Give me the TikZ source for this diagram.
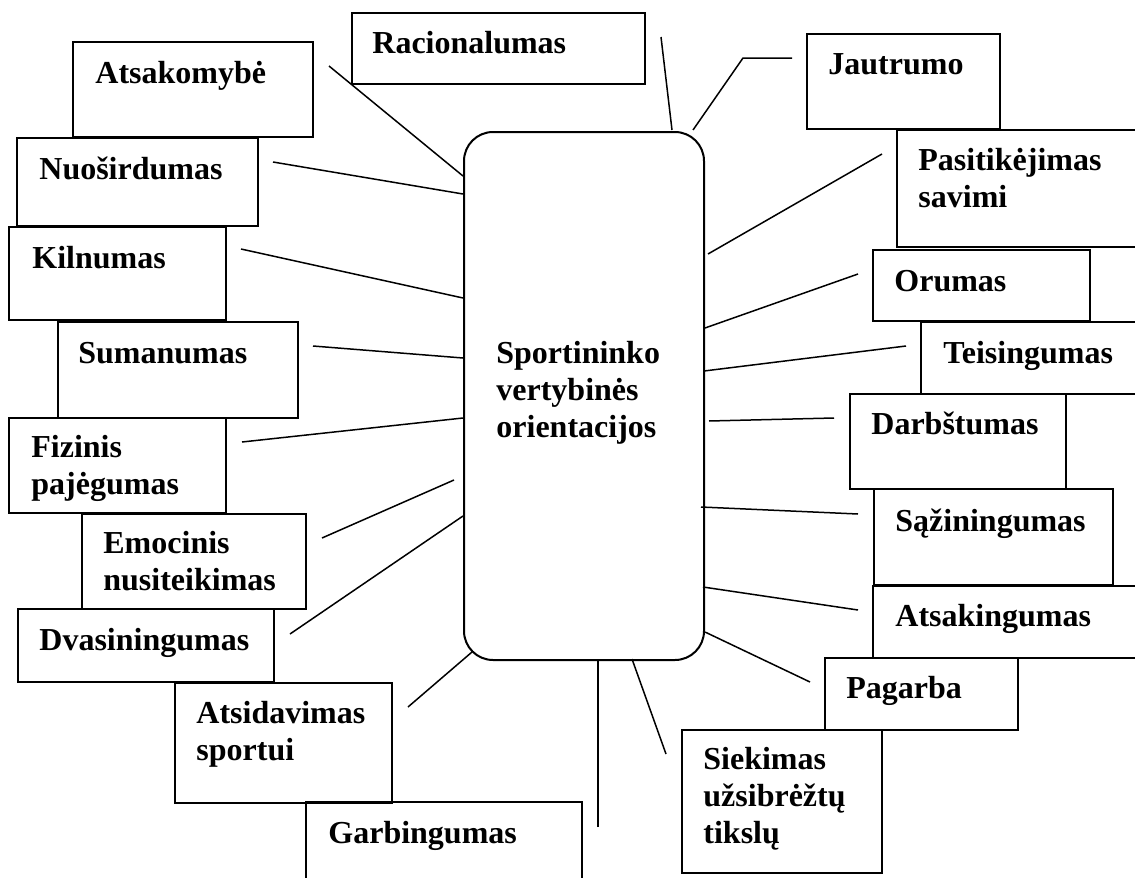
\documentclass[tikz,border=0pt]{standalone}
\usepackage{fontspec}
\setmainfont{Liberation Serif}
\usepackage{tikz}

\begin{document}
\begin{tikzpicture}[x=0.5pt, y=-0.5pt,
  box/.style={draw=black, line width=1pt, anchor=north west, inner sep=0pt, outer sep=0pt},
  hub/.style={draw=black, line width=1pt, rounded corners=14.5pt, anchor=north west, inner sep=0pt,
    minimum width=120pt, minimum height=264pt},
  word/.style={anchor=base west, inner sep=0pt, align=left,
    font=\bfseries\fontsize{16}{18.5}\selectfont},
  link/.style={draw=black, line width=0.75pt}]
\path [use as bounding box, clip] (0,0) rectangle (1135,878);
% centre (multi-line words sit on their last baseline)
\node [hub] (sport) at (463,131) {};
\node [word] (sporttxt) at (496,437) {Sportininko\\vertybinės\\orientacijos};
% boxes on the left
\node [box, minimum width=146.5pt, minimum height=35.5pt] (racion) at (352,13) {};
\node [word] at (372,54) {Racionalumas};
\node [box, minimum width=120pt, minimum height=47.5pt] (atsak) at (73,42) {};
\node [word] at (95,83) {Atsakomybė};
\node [box, minimum width=120.5pt, minimum height=44pt] (nuosird) at (17,138) {};
\node [word] at (39,179) {Nuoširdumas};
\node [box, minimum width=108.5pt, minimum height=46.5pt] (kiln) at (9,227) {};
\node [word] at (32,268) {Kilnumas};
\node [box, minimum width=120pt, minimum height=48pt] (suman) at (58,322) {};
\node [word] at (78,363) {Sumanumas};
\node [box, minimum width=108.5pt, minimum height=47.5pt] (fizin) at (9,418) {};
\node [word] at (31,494) {Fizinis\\pajėgumas};
\node [box, minimum width=112pt, minimum height=47.5pt] (emoc) at (82,514) {};
\node [word] at (103,590) {Emocinis\\nusiteikimas};
\node [box, minimum width=128pt, minimum height=36.5pt] (dvas) at (18,609) {};
\node [word] at (39,650) {Dvasiningumas};
\node [box, minimum width=108.5pt, minimum height=60pt] (atsid) at (175,683) {};
\node [word] at (196,760) {Atsidavimas\\sportui};
\node [box, minimum width=138pt, minimum height=44pt] (garb) at (306,802) {};
\node [word] at (328,843) {Garbingumas};
% boxes on the right
\node [box, minimum width=96.5pt, minimum height=47.5pt] (jautr) at (807,34) {};
\node [word] at (828,74) {Jautrumo};
\node [box, minimum width=131.5pt, minimum height=58.5pt] (pasit) at (897,130) {};
\node [word] at (918,207) {Pasitikėjimas\\savimi};
\node [box, minimum width=108.5pt, minimum height=35.5pt] (orum) at (873,250) {};
\node [word] at (894,291) {Orumas};
\node [box, minimum width=119.5pt, minimum height=36pt] (teis) at (921,322) {};
\node [word] at (943,363) {Teisingumas};
\node [box, minimum width=108pt, minimum height=47.5pt] (darb) at (850,394) {};
\node [word] at (871,434) {Darbštumas};
\node [box, minimum width=119.5pt, minimum height=48pt] (sazin) at (874,489) {};
\node [word] at (895,531) {Sąžiningumas};
\node [box, minimum width=143.5pt, minimum height=36pt] (atsakin) at (873,586) {};
\node [word] at (895,626) {Atsakingumas};
\node [box, minimum width=96.5pt, minimum height=36pt] (pagarb) at (825,658) {};
\node [word] at (846,698) {Pagarba};
\node [box, minimum width=100pt, minimum height=71.5pt] (siek) at (682,730) {};
\node [word] at (703,843) {Siekimas\\užsibrėžtų\\tikslų};
% line ends
\coordinate (racion-o) at (661,37);   \coordinate (racion-i) at (672,130);
\coordinate (atsak-o) at (329,66);    \coordinate (atsak-i) at (463,176);
\coordinate (nuosird-o) at (273,162); \coordinate (nuosird-i) at (463,194);
\coordinate (kiln-o) at (241,249);    \coordinate (kiln-i) at (463,298);
\coordinate (suman-o) at (313,346);   \coordinate (suman-i) at (463,358);
\coordinate (fizin-o) at (242,442);   \coordinate (fizin-i) at (463,418);
\coordinate (emoc-o) at (322,538);    \coordinate (emoc-i) at (454,480);
\coordinate (dvas-o) at (290,634);    \coordinate (dvas-i) at (463,516);
\coordinate (atsid-o) at (408,707);   \coordinate (atsid-i) at (472,652);
\coordinate (garb-o) at (598,827);    \coordinate (garb-i) at (598,659);
\coordinate (siek-o) at (666,754);    \coordinate (siek-i) at (632,659);
\coordinate (pagarb-o) at (810,682);  \coordinate (pagarb-i) at (705,632);
\coordinate (atsakin-o) at (858,610); \coordinate (atsakin-i) at (703,587);
\coordinate (sazin-o) at (858,514);   \coordinate (sazin-i) at (701,507);
\coordinate (darb-o) at (834,418);    \coordinate (darb-i) at (709,421);
\coordinate (teis-o) at (906,346);    \coordinate (teis-i) at (704,371);
\coordinate (orum-o) at (858,274);    \coordinate (orum-i) at (705,328);
\coordinate (pasit-o) at (882,154);   \coordinate (pasit-i) at (708,254);
\coordinate (jautr-o) at (792,58);    \coordinate (jautr-k) at (743,58);
\coordinate (jautr-i) at (693,130);
% lines
\draw [link] (racion-o) -- (racion-i);
\draw [link] (atsak-o) -- (atsak-i);
\draw [link] (nuosird-o) -- (nuosird-i);
\draw [link] (kiln-o) -- (kiln-i);
\draw [link] (suman-o) -- (suman-i);
\draw [link] (fizin-o) -- (fizin-i);
\draw [link] (emoc-o) -- (emoc-i);
\draw [link] (dvas-o) -- (dvas-i);
\draw [link] (atsid-o) -- (atsid-i);
\draw [link] (garb-o) -- (garb-i);
\draw [link] (siek-o) -- (siek-i);
\draw [link] (pagarb-o) -- (pagarb-i);
\draw [link] (atsakin-o) -- (atsakin-i);
\draw [link] (sazin-o) -- (sazin-i);
\draw [link] (darb-o) -- (darb-i);
\draw [link] (teis-o) -- (teis-i);
\draw [link] (orum-o) -- (orum-i);
\draw [link] (pasit-o) -- (pasit-i);
\draw [link] (jautr-o) -- (jautr-k) -- (jautr-i);
\end{tikzpicture}
\end{document}
